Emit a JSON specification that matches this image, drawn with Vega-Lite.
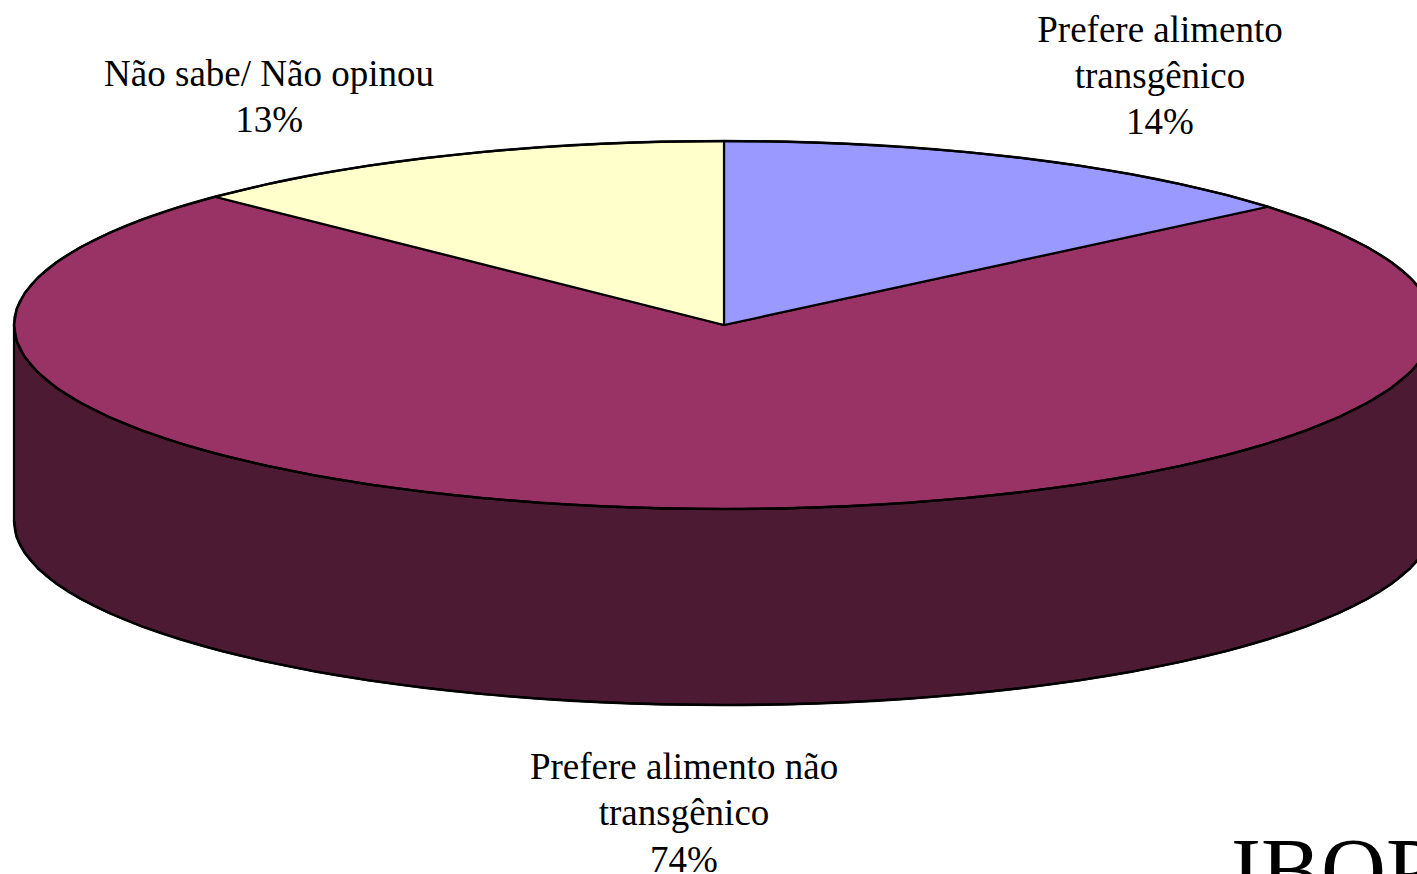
{"$schema":"https://vega.github.io/schema/vega-lite/v6.json","width":1417,"height":874,"padding":0,"autosize":{"type":"none"},"background":"white","config":{"view":{"stroke":null}},
"datasets":{"outline":[
{"part":"Lateral","n":1,"u":-1,"v":0},{"part":"Lateral","n":2,"u":-0.9962,"v":-0.0872},{"part":"Lateral","n":3,"u":-0.9848,"v":-0.1736},{"part":"Lateral","n":4,"u":-0.9659,"v":-0.2588},{"part":"Lateral","n":5,"u":-0.9397,"v":-0.342},{"part":"Lateral","n":6,"u":-0.9063,"v":-0.4226},{"part":"Lateral","n":7,"u":-0.866,"v":-0.5},{"part":"Lateral","n":8,"u":-0.8192,"v":-0.5736},{"part":"Lateral","n":9,"u":-0.766,"v":-0.6428},{"part":"Lateral","n":10,"u":-0.7071,"v":-0.7071},{"part":"Lateral","n":11,"u":-0.6428,"v":-0.766},{"part":"Lateral","n":12,"u":-0.5736,"v":-0.8192},{"part":"Lateral","n":13,"u":-0.5,"v":-0.866},{"part":"Lateral","n":14,"u":-0.4226,"v":-0.9063},{"part":"Lateral","n":15,"u":-0.342,"v":-0.9397},{"part":"Lateral","n":16,"u":-0.2588,"v":-0.9659},{"part":"Lateral","n":17,"u":-0.1736,"v":-0.9848},{"part":"Lateral","n":18,"u":-0.0872,"v":-0.9962},{"part":"Lateral","n":19,"u":0,"v":-1},{"part":"Lateral","n":20,"u":0.0872,"v":-0.9962},{"part":"Lateral","n":21,"u":0.1736,"v":-0.9848},{"part":"Lateral","n":22,"u":0.2588,"v":-0.9659},{"part":"Lateral","n":23,"u":0.342,"v":-0.9397},{"part":"Lateral","n":24,"u":0.4226,"v":-0.9063},{"part":"Lateral","n":25,"u":0.5,"v":-0.866},{"part":"Lateral","n":26,"u":0.5736,"v":-0.8192},{"part":"Lateral","n":27,"u":0.6428,"v":-0.766},{"part":"Lateral","n":28,"u":0.7071,"v":-0.7071},{"part":"Lateral","n":29,"u":0.766,"v":-0.6428},{"part":"Lateral","n":30,"u":0.8192,"v":-0.5736},{"part":"Lateral","n":31,"u":0.866,"v":-0.5},{"part":"Lateral","n":32,"u":0.9063,"v":-0.4226},{"part":"Lateral","n":33,"u":0.9397,"v":-0.342},{"part":"Lateral","n":34,"u":0.9659,"v":-0.2588},{"part":"Lateral","n":35,"u":0.9848,"v":-0.1736},{"part":"Lateral","n":36,"u":0.9962,"v":-0.0872},{"part":"Lateral","n":37,"u":1,"v":0},
{"part":"Lateral","n":38,"u":1,"v":-1.0652},{"part":"Lateral","n":39,"u":0.9962,"v":-1.1524},{"part":"Lateral","n":40,"u":0.9848,"v":-1.2388},{"part":"Lateral","n":41,"u":0.9659,"v":-1.324},{"part":"Lateral","n":42,"u":0.9397,"v":-1.4072},{"part":"Lateral","n":43,"u":0.9063,"v":-1.4878},{"part":"Lateral","n":44,"u":0.866,"v":-1.5652},{"part":"Lateral","n":45,"u":0.8192,"v":-1.6388},{"part":"Lateral","n":46,"u":0.766,"v":-1.708},{"part":"Lateral","n":47,"u":0.7071,"v":-1.7723},{"part":"Lateral","n":48,"u":0.6428,"v":-1.8312},{"part":"Lateral","n":49,"u":0.5736,"v":-1.8844},{"part":"Lateral","n":50,"u":0.5,"v":-1.9312},{"part":"Lateral","n":51,"u":0.4226,"v":-1.9715},{"part":"Lateral","n":52,"u":0.342,"v":-2.0049},{"part":"Lateral","n":53,"u":0.2588,"v":-2.0311},{"part":"Lateral","n":54,"u":0.1736,"v":-2.05},{"part":"Lateral","n":55,"u":0.0872,"v":-2.0614},{"part":"Lateral","n":56,"u":0,"v":-2.0652},{"part":"Lateral","n":57,"u":-0.0872,"v":-2.0614},{"part":"Lateral","n":58,"u":-0.1736,"v":-2.05},{"part":"Lateral","n":59,"u":-0.2588,"v":-2.0311},{"part":"Lateral","n":60,"u":-0.342,"v":-2.0049},{"part":"Lateral","n":61,"u":-0.4226,"v":-1.9715},{"part":"Lateral","n":62,"u":-0.5,"v":-1.9312},{"part":"Lateral","n":63,"u":-0.5736,"v":-1.8844},{"part":"Lateral","n":64,"u":-0.6428,"v":-1.8312},{"part":"Lateral","n":65,"u":-0.7071,"v":-1.7723},{"part":"Lateral","n":66,"u":-0.766,"v":-1.708},{"part":"Lateral","n":67,"u":-0.8192,"v":-1.6388},{"part":"Lateral","n":68,"u":-0.866,"v":-1.5652},{"part":"Lateral","n":69,"u":-0.9063,"v":-1.4878},{"part":"Lateral","n":70,"u":-0.9397,"v":-1.4072},{"part":"Lateral","n":71,"u":-0.9659,"v":-1.324},{"part":"Lateral","n":72,"u":-0.9848,"v":-1.2388},{"part":"Lateral","n":73,"u":-0.9962,"v":-1.1524},{"part":"Lateral","n":74,"u":-1,"v":-1.0652},{"part":"Lateral","n":75,"u":-1,"v":0},
{"part":"Prefere alimento não transgênico","n":1,"u":0,"v":0},{"part":"Prefere alimento não transgênico","n":2,"u":0.766,"v":0.6428},{"part":"Prefere alimento não transgênico","n":3,"u":0.8192,"v":0.5736},{"part":"Prefere alimento não transgênico","n":4,"u":0.866,"v":0.5},{"part":"Prefere alimento não transgênico","n":5,"u":0.9063,"v":0.4226},{"part":"Prefere alimento não transgênico","n":6,"u":0.9397,"v":0.342},{"part":"Prefere alimento não transgênico","n":7,"u":0.9659,"v":0.2588},{"part":"Prefere alimento não transgênico","n":8,"u":0.9848,"v":0.1736},{"part":"Prefere alimento não transgênico","n":9,"u":0.9962,"v":0.0872},{"part":"Prefere alimento não transgênico","n":10,"u":1,"v":0},{"part":"Prefere alimento não transgênico","n":11,"u":0.9962,"v":-0.0872},{"part":"Prefere alimento não transgênico","n":12,"u":0.9848,"v":-0.1736},{"part":"Prefere alimento não transgênico","n":13,"u":0.9659,"v":-0.2588},{"part":"Prefere alimento não transgênico","n":14,"u":0.9397,"v":-0.342},{"part":"Prefere alimento não transgênico","n":15,"u":0.9063,"v":-0.4226},{"part":"Prefere alimento não transgênico","n":16,"u":0.866,"v":-0.5},{"part":"Prefere alimento não transgênico","n":17,"u":0.8192,"v":-0.5736},{"part":"Prefere alimento não transgênico","n":18,"u":0.766,"v":-0.6428},{"part":"Prefere alimento não transgênico","n":19,"u":0.7071,"v":-0.7071},{"part":"Prefere alimento não transgênico","n":20,"u":0.6428,"v":-0.766},{"part":"Prefere alimento não transgênico","n":21,"u":0.5736,"v":-0.8192},{"part":"Prefere alimento não transgênico","n":22,"u":0.5,"v":-0.866},{"part":"Prefere alimento não transgênico","n":23,"u":0.4226,"v":-0.9063},{"part":"Prefere alimento não transgênico","n":24,"u":0.342,"v":-0.9397},{"part":"Prefere alimento não transgênico","n":25,"u":0.2588,"v":-0.9659},{"part":"Prefere alimento não transgênico","n":26,"u":0.1736,"v":-0.9848},{"part":"Prefere alimento não transgênico","n":27,"u":0.0872,"v":-0.9962},{"part":"Prefere alimento não transgênico","n":28,"u":0,"v":-1},{"part":"Prefere alimento não transgênico","n":29,"u":-0.0872,"v":-0.9962},{"part":"Prefere alimento não transgênico","n":30,"u":-0.1736,"v":-0.9848},{"part":"Prefere alimento não transgênico","n":31,"u":-0.2588,"v":-0.9659},{"part":"Prefere alimento não transgênico","n":32,"u":-0.342,"v":-0.9397},{"part":"Prefere alimento não transgênico","n":33,"u":-0.4226,"v":-0.9063},{"part":"Prefere alimento não transgênico","n":34,"u":-0.5,"v":-0.866},{"part":"Prefere alimento não transgênico","n":35,"u":-0.5736,"v":-0.8192},{"part":"Prefere alimento não transgênico","n":36,"u":-0.6428,"v":-0.766},{"part":"Prefere alimento não transgênico","n":37,"u":-0.7071,"v":-0.7071},{"part":"Prefere alimento não transgênico","n":38,"u":-0.766,"v":-0.6428},{"part":"Prefere alimento não transgênico","n":39,"u":-0.8192,"v":-0.5736},{"part":"Prefere alimento não transgênico","n":40,"u":-0.866,"v":-0.5},{"part":"Prefere alimento não transgênico","n":41,"u":-0.9063,"v":-0.4226},{"part":"Prefere alimento não transgênico","n":42,"u":-0.9397,"v":-0.342},{"part":"Prefere alimento não transgênico","n":43,"u":-0.9659,"v":-0.2588},{"part":"Prefere alimento não transgênico","n":44,"u":-0.9848,"v":-0.1736},{"part":"Prefere alimento não transgênico","n":45,"u":-0.9962,"v":-0.0872},{"part":"Prefere alimento não transgênico","n":46,"u":-1,"v":0},{"part":"Prefere alimento não transgênico","n":47,"u":-0.9962,"v":0.0872},{"part":"Prefere alimento não transgênico","n":48,"u":-0.9848,"v":0.1736},{"part":"Prefere alimento não transgênico","n":49,"u":-0.9659,"v":0.2588},{"part":"Prefere alimento não transgênico","n":50,"u":-0.9397,"v":0.342},{"part":"Prefere alimento não transgênico","n":51,"u":-0.9063,"v":0.4226},{"part":"Prefere alimento não transgênico","n":52,"u":-0.866,"v":0.5},{"part":"Prefere alimento não transgênico","n":53,"u":-0.8192,"v":0.5736},{"part":"Prefere alimento não transgênico","n":54,"u":-0.766,"v":0.6428},{"part":"Prefere alimento não transgênico","n":55,"u":-0.717,"v":0.697},{"part":"Prefere alimento não transgênico","n":56,"u":0,"v":0},
{"part":"Prefere alimento transgênico","n":1,"u":0,"v":0},{"part":"Prefere alimento transgênico","n":2,"u":0,"v":1},{"part":"Prefere alimento transgênico","n":3,"u":0.0872,"v":0.9962},{"part":"Prefere alimento transgênico","n":4,"u":0.1736,"v":0.9848},{"part":"Prefere alimento transgênico","n":5,"u":0.2588,"v":0.9659},{"part":"Prefere alimento transgênico","n":6,"u":0.342,"v":0.9397},{"part":"Prefere alimento transgênico","n":7,"u":0.4226,"v":0.9063},{"part":"Prefere alimento transgênico","n":8,"u":0.5,"v":0.866},{"part":"Prefere alimento transgênico","n":9,"u":0.5736,"v":0.8192},{"part":"Prefere alimento transgênico","n":10,"u":0.6428,"v":0.766},{"part":"Prefere alimento transgênico","n":11,"u":0.7071,"v":0.7071},{"part":"Prefere alimento transgênico","n":12,"u":0.766,"v":0.6428},{"part":"Prefere alimento transgênico","n":13,"u":0,"v":0},
{"part":"Não sabe/ Não opinou","n":1,"u":0,"v":0},{"part":"Não sabe/ Não opinou","n":2,"u":0,"v":1},{"part":"Não sabe/ Não opinou","n":3,"u":-0.0872,"v":0.9962},{"part":"Não sabe/ Não opinou","n":4,"u":-0.1736,"v":0.9848},{"part":"Não sabe/ Não opinou","n":5,"u":-0.2588,"v":0.9659},{"part":"Não sabe/ Não opinou","n":6,"u":-0.342,"v":0.9397},{"part":"Não sabe/ Não opinou","n":7,"u":-0.4226,"v":0.9063},{"part":"Não sabe/ Não opinou","n":8,"u":-0.5,"v":0.866},{"part":"Não sabe/ Não opinou","n":9,"u":-0.5736,"v":0.8192},{"part":"Não sabe/ Não opinou","n":10,"u":-0.6428,"v":0.766},{"part":"Não sabe/ Não opinou","n":11,"u":-0.717,"v":0.697},{"part":"Não sabe/ Não opinou","n":12,"u":0,"v":0}
],
"labels":[
{"label":"Prefere alimento\ntransgênico\n14%","u":0.6141,"v":1.538},
{"label":"Não sabe/ Não opinou\n13%","u":-0.6408,"v":1.299}
],
"labelBottom":[{"label":"Prefere alimento não\ntransgênico\n74%","u":-0.0563,"v":-2.466}],
"brand":[{"label":"IBOPE","u":0.7141,"v":-3.13}]},
"layer":[
{"data":{"name":"outline"},"mark":{"type":"line","stroke":"black","strokeWidth":2.2,"strokeJoin":"round","clip":true,"fillOpacity":1},
"encoding":{
"x":{"field":"u","type":"quantitative","axis":null,"scale":{"domain":[-1.01972,0.97606],"nice":false,"zero":false}},
"y":{"field":"v","type":"quantitative","axis":null,"scale":{"domain":[-2.9837,1.7663],"nice":false,"zero":false}},
"order":{"field":"n","type":"quantitative"},
"detail":{"field":"part"},
"fill":{"field":"part","type":"nominal","legend":null,"sort":null,"scale":{"domain":["Lateral","Prefere alimento não transgênico","Prefere alimento transgênico","Não sabe/ Não opinou"],"range":["#4C1A33","#993366","#9999FF","#FFFFCC"]}}
}},
{"data":{"name":"outline"},"transform":[{"filter":"(datum.part==='Lateral'&&datum.n>=38&&datum.n<=74)||(datum.part==='Prefere alimento não transgênico'&&datum.n>=2&&datum.n<=55)||(datum.part==='Prefere alimento transgênico'&&datum.n>=2&&datum.n<=12)||(datum.part==='Não sabe/ Não opinou'&&datum.n>=2&&datum.n<=11)"}],
"mark":{"type":"line","stroke":"black","strokeWidth":2.4,"interpolate":"cardinal","tension":0,"clip":true},
"encoding":{
"x":{"field":"u","type":"quantitative"},
"y":{"field":"v","type":"quantitative"},
"order":{"field":"n","type":"quantitative"},
"detail":{"field":"part"}
}},
{"data":{"name":"labels"},"mark":{"type":"text","font":"Liberation Serif","fontSize":37,"lineHeight":46,"align":"center","baseline":"alphabetic","lineBreak":"\n","color":"black"},
"encoding":{"x":{"field":"u","type":"quantitative"},"y":{"field":"v","type":"quantitative"},"text":{"field":"label"}}},
{"data":{"name":"labelBottom"},"mark":{"type":"text","font":"Liberation Serif","fontSize":37,"lineHeight":46.7,"align":"center","baseline":"alphabetic","lineBreak":"\n","color":"black"},
"encoding":{"x":{"field":"u","type":"quantitative"},"y":{"field":"v","type":"quantitative"},"text":{"field":"label"}}},
{"data":{"name":"brand"},"mark":{"type":"text","font":"Liberation Serif","fontSize":90,"align":"left","baseline":"alphabetic","color":"black"},
"encoding":{"x":{"field":"u","type":"quantitative"},"y":{"field":"v","type":"quantitative"},"text":{"field":"label"}}}
]}
